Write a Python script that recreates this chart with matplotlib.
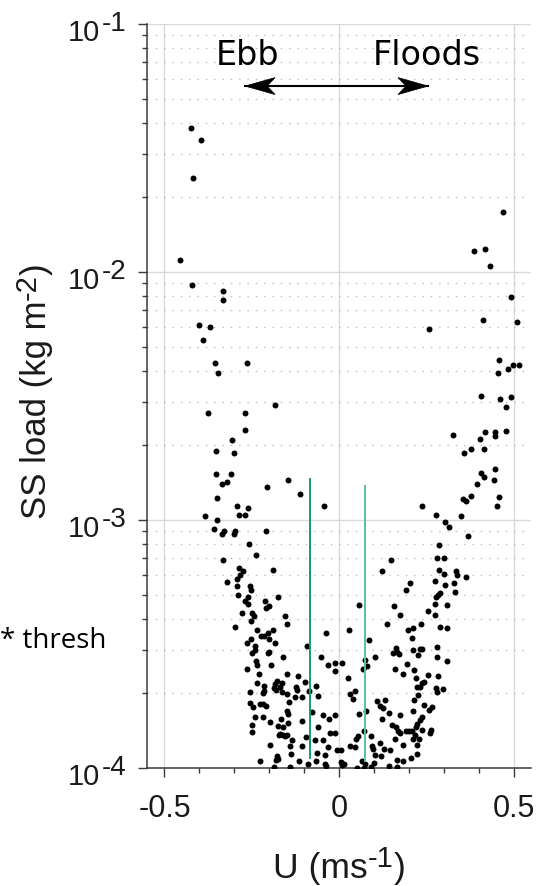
import matplotlib
matplotlib.use("Agg")
import matplotlib.pyplot as plt
from matplotlib.ticker import LogLocator, MultipleLocator, NullFormatter
from matplotlib.patches import Polygon
import matplotlib.transforms as mtransforms
import math

plt.rcParams['font.family'] = ['Liberation Sans', 'DejaVu Sans']
plt.rcParams['axes.unicode_minus'] = False

# ---- data: (U [m/s], SS load [kg m^-2]) ----
ebb_pts = [
    (-0.424, 3.8e-2), (-0.395, 3.4e-2), (-0.417, 2.4e-2), (-0.455, 1.12e-2), (-0.420, 8.9e-3),
    (-0.331, 8.4e-3), (-0.331, 7.7e-3), (-0.400, 6.1e-3), (-0.370, 6.0e-3), (-0.390, 5.3e-3),
    (-0.356, 4.3e-3), (-0.348, 3.9e-3), (-0.263, 4.3e-3), (-0.375, 2.7e-3), (-0.268, 2.7e-3),
    (-0.184, 2.9e-3), (-0.268, 2.3e-3), (-0.307, 2.1e-3), (-0.352, 1.9e-3), (-0.302, 1.86e-3),
    (-0.353, 1.53e-3), (-0.310, 1.53e-3), (-0.336, 1.40e-3), (-0.322, 1.42e-3), (-0.146, 1.45e-3),
    (-0.206, 1.36e-3), (-0.349, 1.23e-3), (-0.112, 1.27e-3), (-0.044, 1.14e-3), (-0.291, 1.14e-3),
    (-0.261, 1.12e-3), (-0.287, 1.05e-3), (-0.268, 1.05e-3), (-0.384, 1.04e-3), (-0.350, 1.0e-3),
    (-0.359, 9.2e-4), (-0.329, 9.0e-4), (-0.335, 8.8e-4), (-0.299, 9.0e-4), (-0.302, 8.8e-4),
    (-0.209, 9.0e-4), (-0.257, 8.0e-4), (-0.238, 7.2e-4), (-0.333, 6.9e-4), (-0.287, 6.4e-4),
    (-0.276, 6.2e-4), (-0.284, 6.0e-4), (-0.291, 5.8e-4), (-0.322, 5.6e-4), (-0.291, 5.4e-4),
    (-0.255, 5.4e-4), (-0.253, 5.2e-4), (-0.290, 5.0e-4), (-0.188, 6.3e-4), (-0.262, 4.9e-4),
    (-0.268, 4.7e-4), (-0.260, 4.6e-4), (-0.212, 4.7e-4), (-0.200, 4.5e-4), (-0.209, 4.4e-4),
    (-0.175, 4.9e-4), (-0.277, 4.2e-4), (-0.248, 4.2e-4), (-0.244, 4.1e-4), (-0.253, 3.9e-4),
    (-0.156, 4.1e-4), (-0.149, 3.8e-4), (-0.299, 3.7e-4), (-0.235, 3.6e-4), (-0.223, 3.4e-4),
    (-0.214, 3.4e-4), (-0.203, 3.5e-4), (-0.190, 3.6e-4), (-0.037, 3.5e-4), (-0.253, 3.3e-4),
    (-0.241, 3.1e-4), (-0.200, 3.3e-4), (-0.183, 3.2e-4), (-0.092, 3.1e-4), (-0.264, 3.2e-4),
    (-0.250, 2.9e-4), (-0.242, 3.0e-4), (-0.203, 2.9e-4), (-0.201, 2.94e-4), (-0.161, 2.8e-4),
    (-0.238, 2.7e-4), (-0.236, 2.6e-4), (-0.228, 2.4e-4), (-0.263, 2.5e-4), (-0.196, 2.6e-4),
    (-0.052, 2.8e-4), (-0.031, 2.6e-4), (-0.011, 2.64e-4), (-0.011, 2.45e-4), (-0.148, 2.4e-4),
    (-0.117, 2.36e-4), (-0.234, 2.2e-4), (-0.177, 2.24e-4), (-0.164, 2.21e-4), (-0.169, 2.13e-4),
    (-0.183, 2.18e-4), (-0.187, 2.11e-4), (-0.214, 2.15e-4), (-0.215, 2.05e-4), (-0.217, 2.0e-4),
    (-0.181, 2.06e-4), (-0.164, 2.03e-4), (-0.148, 1.98e-4), (-0.123, 2.13e-4), (-0.121, 2.06e-4),
    (-0.097, 2.22e-4), (-0.066, 2.14e-4), (-0.086, 2.04e-4), (-0.255, 2.03e-4), (-0.125, 1.94e-4),
    (-0.107, 1.93e-4), (-0.059, 1.95e-4), (-0.256, 1.83e-4), (-0.247, 1.77e-4), (-0.226, 1.81e-4),
    (-0.217, 1.82e-4), (-0.208, 1.78e-4), (-0.144, 1.85e-4), (-0.148, 1.69e-4), (-0.145, 1.65e-4),
    (-0.240, 1.61e-4), (-0.217, 1.60e-4), (-0.167, 1.57e-4), (-0.198, 1.53e-4), (-0.176, 1.48e-4),
    (-0.161, 1.46e-4), (-0.146, 1.52e-4), (-0.105, 1.54e-4), (-0.077, 1.68e-4), (-0.045, 1.63e-4),
    (-0.028, 1.58e-4), (-0.011, 1.63e-4), (-0.248, 1.49e-4), (-0.250, 1.40e-4), (-0.169, 1.37e-4),
    (-0.172, 1.36e-4), (-0.161, 1.36e-4), (-0.154, 1.35e-4), (-0.148, 1.36e-4), (-0.060, 1.46e-4),
    (-0.026, 1.38e-4), (-0.011, 1.38e-4), (-0.134, 1.30e-4), (-0.095, 1.33e-4), (-0.069, 1.30e-4),
    (-0.045, 1.30e-4), (-0.198, 1.24e-4), (-0.140, 1.23e-4), (-0.107, 1.23e-4), (-0.032, 1.21e-4),
    (-0.007, 1.18e-4), (-0.138, 1.14e-4), (-0.062, 1.15e-4), (-0.040, 1.13e-4), (-0.177, 1.12e-4),
    (-0.174, 1.09e-4), (-0.181, 1.08e-4), (-0.226, 1.07e-4), (-0.115, 1.07e-4), (-0.090, 1.04e-4),
    (-0.067, 1.07e-4), (-0.039, 1.04e-4), (-0.038, 1.02e-4), (-0.186, 1.01e-4), (-0.140, 1.01e-4),
]

flood_pts = [
    (0.470, 1.75e-2), (0.387, 1.21e-2), (0.417, 1.24e-2), (0.433, 1.06e-2), (0.492, 7.9e-3),
    (0.413, 6.4e-3), (0.509, 6.3e-3), (0.259, 5.9e-3), (0.458, 4.4e-3), (0.456, 3.9e-3),
    (0.485, 4.06e-3), (0.499, 4.2e-3), (0.515, 4.2e-3), (0.406, 3.16e-3), (0.462, 3.07e-3),
    (0.492, 3.12e-3), (0.479, 2.86e-3), (0.327, 2.2e-3), (0.419, 2.27e-3), (0.447, 2.27e-3),
    (0.447, 2.19e-3), (0.479, 2.29e-3), (0.405, 2.13e-3), (0.379, 1.93e-3), (0.359, 1.87e-3),
    (0.415, 1.93e-3), (0.447, 1.61e-3), (0.407, 1.55e-3), (0.416, 1.49e-3), (0.395, 1.40e-3),
    (0.445, 1.45e-3), (0.458, 1.24e-3), (0.453, 1.14e-3), (0.378, 1.25e-3), (0.355, 1.21e-3),
    (0.363, 1.19e-3), (0.238, 1.14e-3), (0.279, 1.05e-3), (0.350, 1.04e-3),
    (0.305, 9.8e-4), (0.315, 9.35e-4), (0.369, 8.6e-4), (0.287, 7.95e-4), (0.280, 7.0e-4),
    (0.300, 7.0e-4), (0.148, 6.9e-4), (0.123, 6.2e-4), (0.287, 6.3e-4), (0.301, 6.06e-4),
    (0.335, 6.2e-4), (0.337, 6.0e-4), (0.364, 5.9e-4), (0.275, 5.7e-4), (0.305, 5.47e-4),
    (0.330, 5.55e-4), (0.204, 5.57e-4), (0.193, 5.22e-4), (0.289, 5.09e-4), (0.285, 4.98e-4),
    (0.279, 4.89e-4), (0.332, 5.11e-4), (0.056, 4.55e-4), (0.158, 4.50e-4), (0.274, 4.58e-4),
    (0.309, 4.53e-4), (0.254, 4.30e-4), (0.174, 4.14e-4), (0.275, 4.13e-4), (0.138, 3.81e-4),
    (0.235, 3.80e-4), (0.199, 3.60e-4), (0.213, 3.67e-4), (0.289, 3.70e-4), (0.309, 3.68e-4),
    (0.029, 3.59e-4), (0.208, 3.33e-4), (0.087, 3.27e-4), (0.162, 3.04e-4), (0.156, 2.90e-4),
    (0.173, 2.87e-4), (0.165, 2.94e-4), (0.212, 2.99e-4), (0.232, 3.01e-4), (0.239, 3.01e-4),
    (0.280, 3.07e-4), (0.227, 2.86e-4), (0.281, 2.81e-4), (0.309, 2.69e-4), (0.103, 2.79e-4),
    (0.074, 2.73e-4), (0.080, 2.59e-4), (0.069, 2.50e-4), (0.009, 2.64e-4), (0.194, 2.62e-4),
    (0.160, 2.50e-4), (0.216, 2.48e-4), (0.183, 2.39e-4), (0.256, 2.37e-4), (0.283, 2.35e-4),
    (0.221, 2.30e-4), (0.027, 2.30e-4), (0.244, 2.23e-4), (0.237, 2.20e-4), (0.223, 2.13e-4),
    (0.232, 2.13e-4), (0.277, 2.10e-4), (0.298, 2.08e-4), (0.280, 2.03e-4), (0.046, 2.05e-4),
    (0.032, 1.98e-4), (0.041, 1.89e-4), (0.227, 1.97e-4), (0.108, 1.86e-4), (0.133, 1.88e-4),
    (0.117, 1.78e-4), (0.127, 1.74e-4), (0.144, 1.67e-4), (0.215, 1.88e-4), (0.244, 1.79e-4),
    (0.266, 1.77e-4), (0.259, 1.71e-4), (0.211, 1.70e-4), (0.077, 1.70e-4), (0.057, 1.65e-4),
    (0.176, 1.63e-4), (0.122, 1.58e-4), (0.239, 1.60e-4), (0.232, 1.56e-4), (0.224, 1.51e-4),
    (0.220, 1.47e-4), (0.153, 1.49e-4), (0.162, 1.46e-4), (0.170, 1.41e-4), (0.175, 1.39e-4),
    (0.192, 1.41e-4), (0.201, 1.41e-4), (0.208, 1.41e-4), (0.239, 1.42e-4), (0.263, 1.42e-4),
    (0.261, 1.38e-4), (0.072, 1.41e-4), (0.218, 1.36e-4), (0.229, 1.31e-4), (0.211, 1.31e-4),
    (0.160, 1.31e-4), (0.055, 1.35e-4), (0.048, 1.31e-4), (0.093, 1.35e-4), (0.183, 1.24e-4),
    (0.223, 1.24e-4), (0.032, 1.23e-4), (0.046, 1.21e-4), (0.094, 1.23e-4), (0.098, 1.19e-4),
    (0.117, 1.26e-4), (0.129, 1.19e-4), (0.146, 1.18e-4), (0.103, 1.13e-4), (0.119, 1.12e-4),
    (0.005, 1.18e-4), (0.223, 1.14e-4), (0.205, 1.10e-4), (0.006, 1.06e-4), (0.013, 1.04e-4),
    (0.008, 1.03e-4), (0.067, 1.07e-4), (0.074, 1.04e-4), (0.101, 1.05e-4), (0.165, 1.08e-4),
    (0.183, 1.07e-4), (0.144, 1.02e-4), (0.167, 1.01e-4), (0.052, 1.0e-4), (0.072, 1.0e-4),
    (0.092, 1.01e-4),
]

# threshold lines (U position, lower and upper SS)
thresh_u = [-0.082, 0.0745]
thresh_lo = [1.10e-4, 1.07e-4]
thresh_hi = [1.46e-3, 1.37e-3]
thresh_colors = ['#139c74', '#5dbf9f']

# flow direction arrow and labels
arrow_u = [-0.269, 0.255]
arrow_ss = 0.0562
label_ebb = ("Ebb", -0.263, 0.0745)
label_flood = ("Floods", 0.252, 0.0745)

x_ticks = [-0.5, 0, 0.5]
x_ticklabels = ['-0.5', '0', '0.5']
y_decades = [1e-4, 1e-3, 1e-2, 1e-1]

# ---- figure ----
W, H = 537, 886
fig = plt.figure(figsize=(W / 100, H / 100), dpi=100)
ax = fig.add_axes([147 / W, 118 / H, 384 / W, 744 / H])
renderer = fig.canvas.get_renderer()
ident = mtransforms.IdentityTransform()

u_all = [p[0] for p in ebb_pts] + [p[0] for p in flood_pts]
ss_all = [p[1] for p in ebb_pts] + [p[1] for p in flood_pts]
ax.plot(u_all, ss_all, 'o', color='black', ms=4.3, mew=0, zorder=3)

for u, lo, hi, c in zip(thresh_u, thresh_lo, thresh_hi, thresh_colors):
    ax.plot([u, u], [lo, hi], color=c, lw=1.4, zorder=4)

ax.set_yscale('log')
ax.set_xlim(-0.55, 0.55)
ax.set_ylim(1e-4, 1e-1)

ax.set_xticks(x_ticks)
ax.set_xticklabels(x_ticklabels)
ax.xaxis.set_minor_locator(MultipleLocator(0.1))
ax.set_yticks(y_decades)
ax.yaxis.set_minor_locator(LogLocator(base=10, subs=range(2, 10), numticks=20))
ax.yaxis.set_major_formatter(NullFormatter())
ax.yaxis.set_minor_formatter(NullFormatter())

for s in ['top', 'right']:
    ax.spines[s].set_visible(False)
for s in ['left', 'bottom']:
    ax.spines[s].set_color('#3a3a3a')
    ax.spines[s].set_linewidth(1.1)

ax.tick_params(which='major', direction='out', length=6.2, width=1, color='#3a3a3a',
               labelsize=22, labelcolor='#1a1a1a')
ax.tick_params(axis='x', which='major', pad=12.5)
ax.tick_params(which='minor', direction='out', length=3.6, width=1, color='#3a3a3a')

ax.set_axisbelow(True)
ax.grid(which='major', axis='both', color='#dadada', lw=1.0, ls='-')
ax.yaxis.grid(which='minor', color='#bdbdbd', lw=1.0, ls=(0, (1, 5)))

# y tick labels "10" with a large raised exponent (display pixel coordinates)
for v in y_decades:
    ty = ax.transData.transform((0, v))[1]
    fig.text(100, ty - 17, '10', transform=ident, ha='right', va='baseline',
             fontsize=21, color='#1a1a1a')
    fig.text(101.5, ty - 7, '-%d' % round(-math.log10(v)), transform=ident,
             ha='left', va='baseline', fontsize=20, color='#1a1a1a')


def chain(parts, cx, cy, vertical=False):
    """Place text pieces one after another, centred on (cx, cy) in display px.
    parts: (string, fontsize, raise_px)."""
    rot = 90 if vertical else 0
    objs = []
    for s, size, r in parts:
        t = fig.text(0, 0, s, transform=ident, fontsize=size, rotation=rot,
                     rotation_mode='anchor', ha='left', va='baseline', color='#1a1a1a')
        bb = t.get_window_extent(renderer)
        objs.append((t, bb.height if vertical else bb.width, r))
    total = sum(o[1] for o in objs)
    pos = (cy if vertical else cx) - total / 2
    for t, ln, r in objs:
        if vertical:
            t.set_position((cx - r, pos))
        else:
            t.set_position((pos, cy + r))
        pos += ln


# x label: baseline at 878 px from top
chain([('U (ms', 25.5, 0), ('-1', 21, 11), (')', 25.5, 0)], 339, H - 878)
# y label: baseline at x = 46 px
chain([('SS load (kg m', 25, 0), ('-2', 21, 10), (')', 25, 0)], 46, H - 391, vertical=True)

# double-headed arrow with concave heads
ax.plot(arrow_u, [arrow_ss, arrow_ss], color='black', lw=1.5, zorder=5)
L, Hh, N = 30 / 100, 8.5 / 100, 22 / 100   # head length, half-width, notch (inches)
for x0, sgn in [(arrow_u[0], 1), (arrow_u[1], -1)]:
    tr = fig.dpi_scale_trans + mtransforms.ScaledTranslation(x0, arrow_ss, ax.transData)
    verts = [(0, 0), (sgn * L, Hh), (sgn * N, 0), (sgn * L, -Hh)]
    ax.add_patch(Polygon(verts, closed=True, transform=tr, facecolor='black',
                         edgecolor='black', lw=0.5, zorder=6, clip_on=False))

for txt, x, y in [label_ebb, label_flood]:
    ax.text(x, y, txt, ha='center', va='center', fontsize=24,
            family=['DejaVu Sans'], color='black')

fig.text(0.0, (H - 648) / H, '* thresh', ha='left', va='baseline', fontsize=20,
         family=['Open Sans', 'DejaVu Sans'], color='black')

fig.savefig('out.png', dpi=100)
